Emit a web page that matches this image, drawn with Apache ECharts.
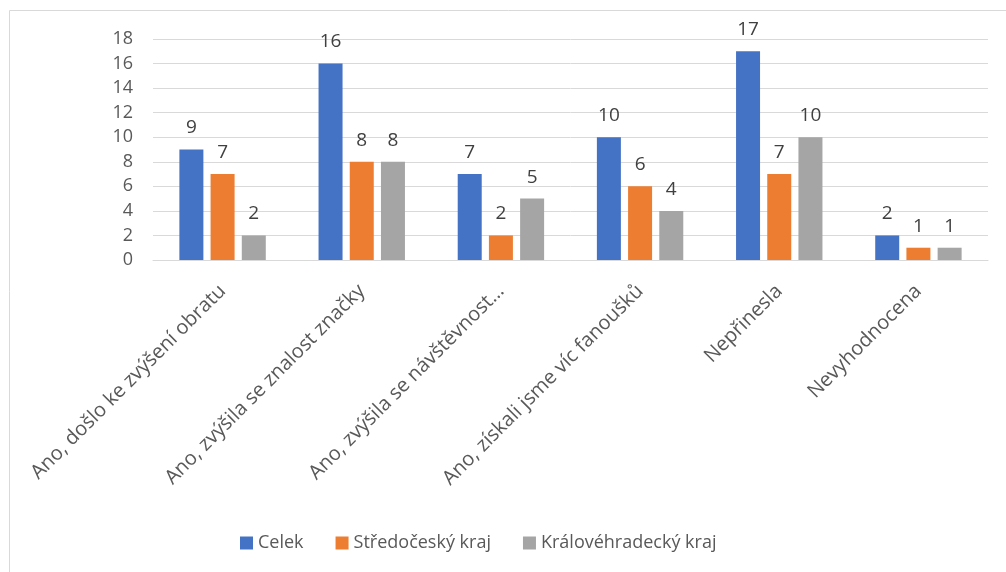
<!DOCTYPE html>
<html><head><meta charset="utf-8">
<script src="https://cdn.jsdelivr.net/npm/echarts@6/dist/echarts.min.js"></script>
<style>html,body{margin:0;padding:0;background:#fff}#c{width:1006px;height:572px}</style>
</head><body><div id="c"></div>
<script>
const categories = ["Ano, došlo ke zvýšení obratu","Ano, zvýšila se znalost značky","Ano, zvýšila se návštěvnost…","Ano, získali jsme víc fanoušků","Nepřinesla","Nevyhodnocena"];
const seriesNames = ["Celek","Středočeský kraj","Královéhradecký kraj"];
const celek = [9,16,7,10,17,2];
const stredocesky = [7,8,2,6,7,1];
const kralovehradecky = [2,8,5,4,10,1];
const colors = ["#4472C4","#ED7D31","#A5A5A5"];
const font = "'Open Sans', 'Liberation Sans', sans-serif";
const chart = echarts.init(document.getElementById('c'));
const mk = (name, data, color) => ({
  name, type:'bar', data, barWidth:24, barGap:'30%',
  itemStyle:{color},
  label:{show:true, position:'top', distance:12, color:'#404040', fontSize:19, fontFamily:font}
});
chart.setOption({
  animation:false,
  textStyle:{fontFamily:font},
  graphic:[{type:'rect', shape:{x:9.5,y:10.5,width:1010,height:600}, style:{fill:'none', stroke:'#D9D9D9', lineWidth:1}}],
  grid:{left:153, right:18, top:39, bottom:312, containLabel:false},
  legend:{left:235, top:529, itemWidth:13, itemHeight:13, itemGap:32, icon:'rect',
    textStyle:{color:'#595959', fontSize:18, fontFamily:font}, data:seriesNames},
  xAxis:{type:'category', data:categories,
    axisLine:{lineStyle:{color:'#D9D9D9', width:1}}, axisTick:{show:false},
    axisLabel:{rotate:45, interval:0, color:'#595959', fontSize:20, fontFamily:font, margin:28}},
  yAxis:{type:'value', min:0, max:18, interval:2,
    axisLine:{show:false}, axisTick:{show:false},
    splitLine:{lineStyle:{color:'#D9D9D9', width:1}},
    axisLabel:{color:'#595959', fontSize:18, fontFamily:font, margin:20}},
  series:[mk(seriesNames[0], celek, colors[0]), mk(seriesNames[1], stredocesky, colors[1]), mk(seriesNames[2], kralovehradecky, colors[2])]
});
</script></body></html>
